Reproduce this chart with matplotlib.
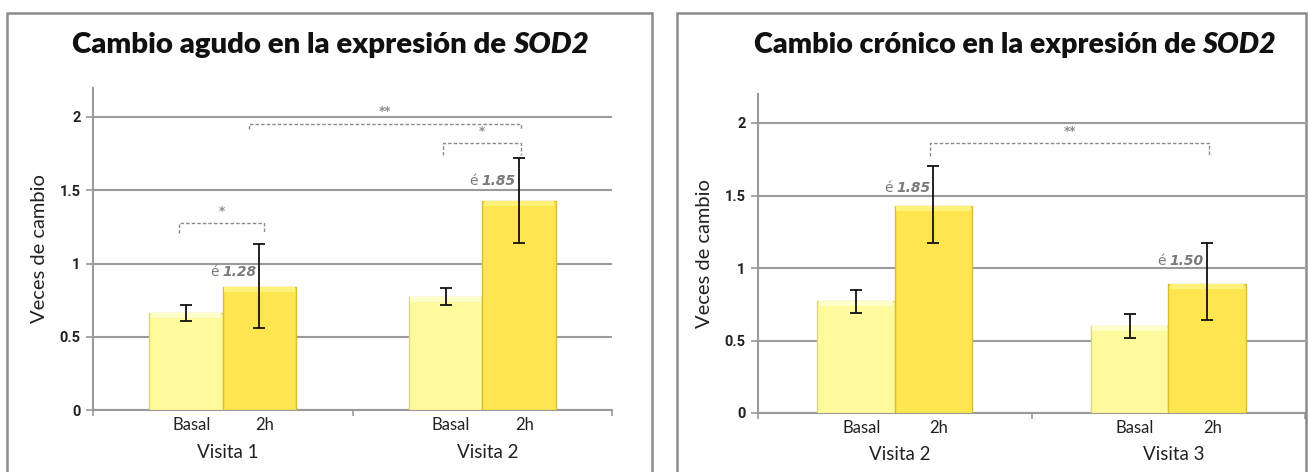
import numpy as np
import matplotlib
matplotlib.use("Agg")
import matplotlib.pyplot as plt
from matplotlib.patches import Rectangle

##### Data #####
panel_titles = ["Cambio agudo en la expresión de ", "Cambio crónico en la expresión de "]
gene = "SOD2"
visits = [["Visita 1", "Visita 2"], ["Visita 2", "Visita 3"]]
conditions = ["Basal", "2h"]

basal_mean = [[0.66, 0.77], [0.77, 0.60]]
basal_low = [[0.61, 0.72], [0.69, 0.52]]
basal_high = [[0.72, 0.83], [0.85, 0.68]]

h2_mean = [[0.84, 1.43], [1.43, 0.89]]
h2_low = [[0.56, 1.14], [1.17, 0.64]]
h2_high = [[1.13, 1.72], [1.70, 1.17]]

fold_labels = [["1.28", "1.85"], ["1.85", "1.50"]]
fold_label_y = [[0.94, 1.56], [1.55, 1.05]]

# significance brackets: (x_left, x_right, y_left_end, y_top, y_right_end, stars)
brackets = [
    [(-0.17, 0.16, 1.21, 1.276, 1.21, "*"),
     (0.10, 1.15, 1.92, 1.955, 1.91, "**"),
     (0.85, 1.15, 1.74, 1.82, 1.74, "*")],
    [(0.13, 1.15, 1.77, 1.86, 1.77, "**")],
]

##### Style #####
basal_color = "#FFFB9C"
basal_edge = "#DCD57A"
h2_color = "#FFE550"
h2_edge = "#D9BD32"
grid_color = "#9A9A9A"
width = 0.283

W, H = 1309, 472
fig = plt.figure(figsize=(W / 100, H / 100), dpi=100)

# panel frames (pixel boxes)
frames = [(7, 13, 652), (677, 13, 1306)]
axes_px = [(93, 612, 410, 2.2 / 2 * (410 - 117)), (758, 1305, 413, 2.2 / 2 * (413 - 123))]
title_px = [(72, 45), (754, 45)]
title_size = [21.2, 20.6]

for p in range(2):
    fx0, fy0, fx1 = frames[p]
    fig.patches.append(Rectangle((fx0 / W, -0.1), (fx1 - fx0) / W, 1 - fy0 / H + 0.1,
                                 transform=fig.transFigure, fill=False,
                                 edgecolor="#8C8C8C", linewidth=1.8))

    ax_x0, ax_x1, ax_y0, ax_hpx = axes_px[p]
    ax = fig.add_axes([ax_x0 / W, 1 - ax_y0 / H, (ax_x1 - ax_x0) / W, ax_hpx / H])
    ax.set_xlim(-0.5, 1.5)
    ax.set_ylim(0, 2.2)

    x = np.arange(2)
    bm = np.array(basal_mean[p])
    hm = np.array(h2_mean[p])

    ax.bar(x - width / 2, bm, width, color=basal_color, edgecolor=basal_edge, linewidth=1, zorder=3)
    ax.bar(x + width / 2, hm, width, color=h2_color, edgecolor=h2_edge, linewidth=1, zorder=3)
    # lighter band on top of each bar
    ax.bar(x - width / 2, 0.035, width * 0.96, bottom=bm - 0.035, color="#FFFFC8",
           linewidth=0, zorder=3.5)
    ax.bar(x + width / 2, 0.035, width * 0.96, bottom=hm - 0.035, color="#FFF27A",
           linewidth=0, zorder=3.5)

    bl, bh = np.array(basal_low[p]), np.array(basal_high[p])
    hl, hh = np.array(h2_low[p]), np.array(h2_high[p])
    ax.errorbar(x - width / 2, (bl + bh) / 2, yerr=(bh - bl) / 2, fmt="none",
                ecolor="#111111", elinewidth=1.3, capsize=4, capthick=1.3, zorder=5)
    ax.errorbar(x + width / 2, (hl + hh) / 2, yerr=(hh - hl) / 2, fmt="none",
                ecolor="#111111", elinewidth=1.3, capsize=4, capthick=1.3, zorder=5)

    # axes styling
    for s in ["top", "right"]:
        ax.spines[s].set_visible(False)
    ax.spines["left"].set_color(grid_color)
    ax.spines["bottom"].set_color(grid_color)
    ax.spines["left"].set_linewidth(1.5)
    ax.spines["bottom"].set_linewidth(1.5)
    ax.set_yticks([0, 0.5, 1, 1.5, 2])
    ax.set_yticklabels(["0", "0.5", "1", "1.5", "2"], fontfamily="Roboto",
                       fontweight="bold", fontsize=10.5, color="#222222")
    ax.yaxis.grid(True, color=grid_color, linewidth=1.5, zorder=0)
    ax.set_axisbelow(True)
    ax.tick_params(axis="y", length=5, width=1.2, color=grid_color, pad=4)
    ax.set_xticks([-0.5, 0.5, 1.5])
    ax.set_xticklabels([])
    ax.tick_params(axis="x", length=4, width=1.2, color=grid_color)
    ax.set_ylabel("Veces de cambio", fontfamily="Lato", fontsize=14.5, color="#222222", labelpad=8)

    # category labels under the axis
    for g in range(2):
        for c, off in zip(conditions, [-width / 2, width / 2]):
            ax.annotate(c, xy=(g + off + 0.02, 0), xycoords=("data", "axes fraction"),
                        xytext=(0, -15), textcoords="offset pixels", ha="center",
                        va="center", fontfamily="Lato", fontsize=12, color="#222222")
        ax.annotate(visits[p][g], xy=(g + 0.02, 0), xycoords=("data", "axes fraction"),
                    xytext=(0, -42), textcoords="offset pixels", ha="center",
                    va="center", fontfamily="Lato", fontsize=13.5, color="#222222")

    # fold-change labels next to the 2h error bars
    for g in range(2):
        num = ax.annotate(fold_labels[p][g], xy=(g + width / 2, fold_label_y[p][g]),
                          xytext=(-3, 0), textcoords="offset pixels", ha="right",
                          va="center", fontfamily="DejaVu Sans", fontweight="bold",
                          fontstyle="italic", fontsize=10, color="#7A7A7A", zorder=6)
        ax.annotate("é", xy=(0, 0.5), xycoords=num, xytext=(-4, 0),
                    textcoords="offset pixels", ha="right", va="center",
                    fontfamily="DejaVu Sans", fontsize=10, color="#7A7A7A")

    # significance brackets
    for x1, x2, yl, yt, yr, stars in brackets[p]:
        ax.plot([x1, x1, x2, x2], [yl, yt, yt, yr], color="#8A8A8A", linewidth=1,
                linestyle=(0, (2.5, 1.5)), zorder=4)
        ax.text((x1 + x2) / 2, yt + 0.035, stars, ha="center", va="bottom",
                fontsize=8.5, fontweight="bold", color="#8A8A8A")

    # title: regular part followed by italic gene name
    tx, ty = title_px[p]
    t1 = fig.text(tx / W, 1 - ty / H, panel_titles[p], ha="left", va="center",
                  fontfamily="Lato", fontweight="heavy", fontsize=title_size[p], color="#111111")
    ax.annotate(gene, xy=(1, 0), xycoords=t1, ha="left", va="bottom",
                fontfamily="Lato", fontweight="heavy", fontstyle="italic",
                fontsize=title_size[p], color="#111111", annotation_clip=False)

fig.savefig("out.png", dpi=100)
